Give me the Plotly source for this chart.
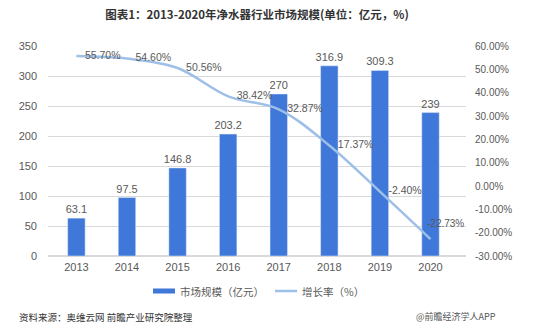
import plotly.graph_objects as go

years = ["2013", "2014", "2015", "2016", "2017", "2018", "2019", "2020"]
market_size = [63.1, 97.5, 146.8, 203.2, 270, 316.9, 309.3, 239]
growth = [55.70, 54.60, 50.56, 38.42, 32.87, 17.37, -2.40, -22.73]
size_labels = ["63.1", "97.5", "146.8", "203.2", "270", "316.9", "309.3", "239"]
growth_labels = ["55.70%", "54.60%", "50.56%", "38.42%", "32.87%", "17.37%", "-2.40%", "-22.73%"]
left_ticks = [0, 50, 100, 150, 200, 250, 300, 350]
right_ticks = [-30, -20, -10, 0, 10, 20, 30, 40, 50, 60]
legend_names = ["市场规模（亿元）", "增长率（%）"]

FONT = "Liberation Sans, Noto Sans CJK SC, sans-serif"
CJK = "Noto Sans CJK SC, sans-serif"
GRAY = "#595959"
BAR = "#3f78d8"
LINE = "#9dbfe8"

# last label is placed separately (nudged up like the original)
trace_labels = growth_labels[:-1] + [""]

fig = go.Figure()
fig.add_trace(go.Bar(
    x=years, y=market_size, name=legend_names[0],
    marker_color=BAR, width=0.345,
    text=size_labels, textposition="outside", constraintext="none",
    textfont=dict(size=11, color=GRAY), cliponaxis=False, showlegend=False,
))
fig.add_trace(go.Scatter(
    x=years, y=growth, name=legend_names[1], yaxis="y2",
    mode="lines+markers+text", line=dict(color=LINE, width=2.5, shape="spline"),
    marker=dict(size=12, color="rgba(0,0,0,0)", line=dict(width=0)),
    text=trace_labels, textposition="middle right",
    textfont=dict(size=10.5, color=GRAY), cliponaxis=False, showlegend=False,
))

fig.update_layout(
    width=550, height=333,
    margin=dict(l=48, r=84, t=46, b=77),
    paper_bgcolor="white", plot_bgcolor="white",
    font=dict(family=FONT, size=10.5, color=GRAY),
    showlegend=False,
    title=dict(text="<b>图表1：2013-2020年净水器行业市场规模(单位：亿元，%)</b>",
               x=0.5, xref="paper", xanchor="center", y=0.955, yanchor="middle",
               font=dict(family=CJK, size=11.5, color="#333333")),
    xaxis=dict(type="category", showgrid=False, showline=False, ticks="",
               ticklabelstandoff=3, tickfont=dict(size=11, color=GRAY)),
    yaxis=dict(range=[0, 350], tickvals=left_ticks, showgrid=True,
               gridcolor="#d9d9d9", zeroline=True, zerolinecolor="#d9d9d9",
               ticks="", ticklabelstandoff=10, tickfont=dict(size=11, color=GRAY)),
    yaxis2=dict(range=[-30, 60], tickvals=right_ticks,
                ticktext=[f"{v:.2f}%" for v in right_ticks],
                overlaying="y", side="right", showgrid=False, zeroline=False,
                ticks="", ticklabelstandoff=8, tickfont=dict(size=10, color=GRAY)),
)

fig.add_annotation(text=growth_labels[-1], x=len(years) - 1, y=growth[-1], xref="x", yref="y2",
                   xanchor="center", yanchor="middle", xshift=15, yshift=16,
                   showarrow=False, font=dict(size=10, color=GRAY))

# manual legend (wide bar swatch and line swatch)
fig.add_shape(type="rect", xref="paper", yref="paper",
              x0=0.2512, x1=0.3038, y0=-0.1667 - 0.012, y1=-0.1667 + 0.012,
              fillcolor=BAR, line=dict(width=0))
fig.add_annotation(text=legend_names[0], xref="paper", yref="paper",
                   x=0.311, y=-0.1667, xanchor="left", yanchor="middle", showarrow=False,
                   font=dict(family=CJK, size=10.5, color=GRAY))
fig.add_shape(type="line", xref="paper", yref="paper",
              x0=0.543, x1=0.596, y0=-0.1667, y1=-0.1667,
              line=dict(color=LINE, width=2.5))
fig.add_annotation(text=legend_names[1], xref="paper", yref="paper",
                   x=0.603, y=-0.1667, xanchor="left", yanchor="middle", showarrow=False,
                   font=dict(family=CJK, size=10.5, color=GRAY))

fig.add_annotation(text="资料来源：奥维云网 前瞻产业研究院整理", xref="paper", yref="paper",
                   x=-0.074, y=-0.29, xanchor="left", yanchor="middle", showarrow=False,
                   font=dict(family=CJK, size=9.5, color="#333333"))
fig.add_annotation(text="@前瞻经济学人APP", xref="paper", yref="paper",
                   x=1.0766, y=-0.29, xanchor="right", yanchor="middle", showarrow=False,
                   font=dict(family=CJK, size=9, color="#555555"))

fig.write_html("out.html")
